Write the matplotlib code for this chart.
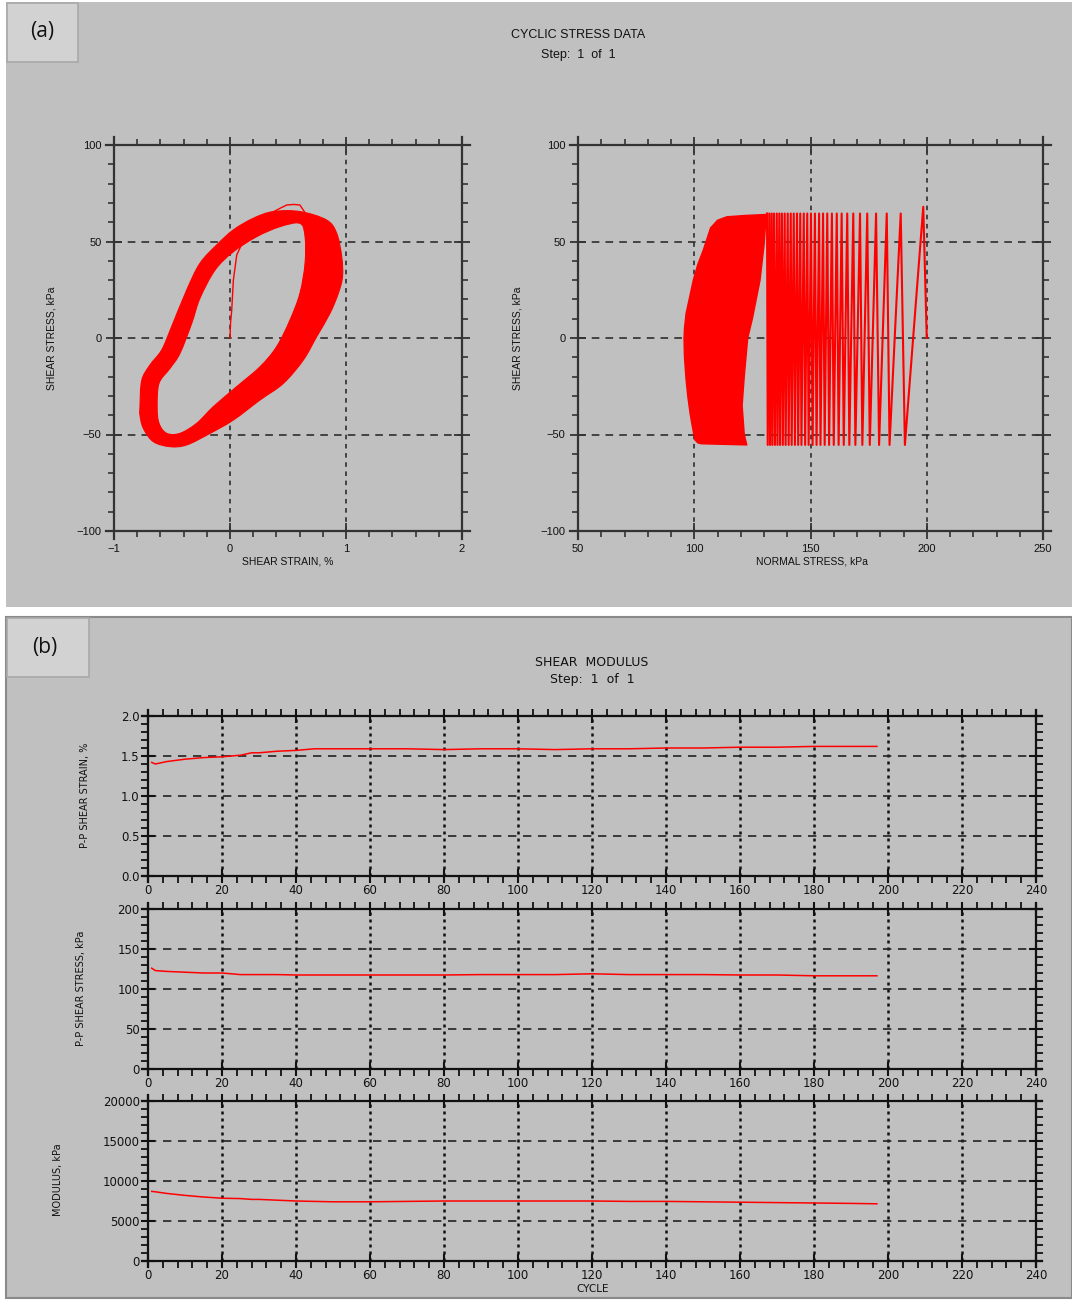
import numpy as np
import matplotlib
matplotlib.use("Agg")
import matplotlib.pyplot as plt
from matplotlib.path import Path
from matplotlib.patches import PathPatch, Rectangle
from matplotlib.ticker import MultipleLocator

# ---------------- data ----------------
# (a) left: shear stress vs shear strain, band of hysteresis loops (outer / inner edges)
loop_outer_strain = [-0.776, -0.761, -0.69, -0.589, -0.503, -0.373, -0.259, -0.115, 0.029, 0.20,
                     0.373, 0.603, 0.833, 0.92, 0.963, 0.97, 0.934, 0.862, 0.747, 0.632,
                     0.46, 0.259, 0.029, -0.172, -0.373, -0.517, -0.661, -0.747, -0.776]
loop_outer_stress = [-35.6, -22.0, -14.0, -6.2, 5.9, 24.9, 38.7, 48.2, 56.0, 62.0,
                     65.5, 65.5, 61.1, 54.2, 42.1, 31.8, 23.2, 12.8, 0.7, -11.4,
                     -23.5, -32.1, -42.5, -49.4, -55.4, -56.3, -53.7, -46.8, -40.0]
loop_inner_strain = [-0.628, -0.612, -0.517, -0.431, -0.330, -0.259, -0.129, 0.029, 0.23, 0.431,
                     0.603, 0.647, 0.647, 0.603, 0.517, 0.402, 0.259, 0.058, -0.144, -0.287,
                     -0.431, -0.546, -0.612]
loop_inner_stress = [-35.6, -23.5, -15.7, -7.9, 7.6, 20.6, 35.2, 44.7, 52.5, 57.7,
                     59.4, 52.5, 38.7, 23.2, 9.3, -4.5, -14.9, -25.2, -35.6, -44.2,
                     -49.4, -49.4, -44.2]
first_load_strain = [0.0, 0.005, 0.015, 0.029, 0.058, 0.15, 0.30, 0.431, 0.489, 0.55, 0.603, 0.66]
first_load_stress = [0.0, 8.0, 14.5, 30.0, 43.0, 55.0, 63.0, 67.2, 68.9, 69.2, 68.9, 63.7]

# (a) right: stress path, normal stress at the peaks/troughs of successive cycles
path_top_sigma = [198.5, 188.8, 182.8, 178.2, 174.4, 171.3, 168.4, 165.8, 163.4, 161.3,
                  159.2, 157.2, 155.4, 153.7, 151.9, 150.2, 148.6, 147.1, 145.6, 144.2,
                  142.8, 141.5, 140.2, 138.9, 137.7, 136.6, 135.5, 134.3, 133.3, 132.3, 131.3]
path_bot_sigma = [190.6, 184.0, 179.5, 175.5, 172.3, 169.3, 166.7, 164.3, 162.1, 160.0,
                  158.0, 156.1, 154.3, 152.6, 150.9, 149.2, 147.7, 146.1, 144.7, 143.3,
                  141.9, 140.6, 139.3, 138.1, 136.9, 135.8, 134.7, 133.6, 132.6, 131.6]
path_top_tau = 64.5
path_first_tau = 68.0
path_bot_tau = -55.4
path_start_sigma = 200.0
# envelope of the many late cycles that overlap into a solid area
dense_sigma = [131.0, 122.0, 114.0, 110.0, 107.0, 103.9, 101.5, 99.6, 97.8, 96.5, 95.8, 95.6,
               95.8, 96.5, 97.2, 98.2, 99.2, 100.3, 101.5, 103.0, 122.6, 121.5, 120.6, 121.5,
               123.0, 125.0, 128.3, 130.0]
dense_tau = [64.0, 63.5, 62.8, 61.0, 57.0, 45.6, 38.0, 30.0, 20.0, 12.8, 5.0, -0.2,
             -10.0, -21.8, -30.0, -39.0, -46.0, -52.8, -54.3, -54.8, -55.4, -50.0, -35.0, -20.0,
             0.0, 10.0, 30.0, 48.0]

# (b) shear modulus history
cycles = [1, 2, 5, 10, 15, 20, 25, 28, 30, 35, 40, 45, 50, 60, 70, 80, 90, 100,
          110, 120, 130, 140, 150, 160, 170, 180, 190, 197]
pp_strain = [1.42, 1.40, 1.43, 1.46, 1.48, 1.49, 1.51, 1.54, 1.54, 1.56, 1.57, 1.59, 1.59, 1.59,
             1.59, 1.58, 1.59, 1.59, 1.58, 1.59, 1.59, 1.60, 1.60, 1.61, 1.61, 1.62, 1.62, 1.62]
pp_stress = [126, 123, 122, 121, 120, 120, 118, 118, 118, 118, 117.5, 117.5, 117.5, 117.5,
             117.5, 117.5, 118, 118, 118, 119, 118, 118, 118, 117.5, 117.5, 116.5, 116.5, 116.5]
modulus = [8700, 8650, 8450, 8200, 8000, 7850, 7800, 7700, 7700, 7600, 7500, 7450, 7400, 7400,
           7450, 7500, 7500, 7500, 7500, 7500, 7450, 7450, 7400, 7350, 7300, 7250, 7200, 7150]

strain_ticks = [-1, 0, 1, 2]
sigma_ticks = [50, 100, 150, 200, 250]
tau_ticks = [-100, -50, 0, 50, 100]
cycle_ticks = list(range(0, 241, 20))

# ---------------- figure ----------------
W, H = 1072, 1300
BG = "#c0c0c0"
RED = "#ff0000"
fig = plt.figure(figsize=(W / 100, H / 100), dpi=100, facecolor="white")


def px_axes(left, top, right, bottom):
    ax = fig.add_axes([left / W, 1 - bottom / H, (right - left) / W, (bottom - top) / H])
    ax.set_facecolor("none")
    ax._px_size = (right - left, bottom - top)
    return ax


def fx(x):
    return x / W


def fy(y):
    return 1 - y / H


def extend_spines(ax, ext=8):
    # let the frame lines run a few pixels past the corners
    (x0, x1), (y0, y1) = ax.get_xlim(), ax.get_ylim()
    wpx, hpx = ax._px_size
    dx = ext / wpx * (x1 - x0)
    dy = ext / hpx * (y1 - y0)
    ax.spines["top"].set_bounds(x0 - dx, x1 + dx)
    ax.spines["bottom"].set_bounds(x0 - dx, x1 + dx)
    ax.spines["left"].set_bounds(y0 - dy, y1 + dy)
    ax.spines["right"].set_bounds(y0 - dy, y1 + dy)


def closed_curve(xs, ys):
    # smooth closed outline through the given points (Catmull-Rom as cubic Beziers)
    p = np.column_stack([xs, ys]).astype(float)
    n = len(p)
    verts = [p[0]]
    codes = [Path.MOVETO]
    for i in range(n):
        p0, p1, p2, p3 = p[i - 1], p[i], p[(i + 1) % n], p[(i + 2) % n]
        verts += [p1 + (p2 - p0) / 6, p2 - (p3 - p1) / 6, p2]
        codes += [Path.CURVE4] * 3
    return np.array(verts), codes


def signed_area(xs, ys):
    x, y = np.asarray(xs), np.asarray(ys)
    return 0.5 * np.sum(x * np.roll(y, -1) - np.roll(x, -1) * y)


# panel backgrounds
bgax = fig.add_axes([0, 0, 1, 1])
bgax.set_xlim(0, W)
bgax.set_ylim(H, 0)
bgax.axis("off")
bgax.add_patch(Rectangle((6, 2), W - 6, 605, facecolor=BG, edgecolor="none"))
bgax.add_patch(Rectangle((6, 617), W - 6, 681, facecolor=BG, edgecolor="#8a8a8a", lw=1.5))
bgax.add_patch(Rectangle((7, 3), 71, 59, facecolor="#d2d2d2", edgecolor="#a9a9a9", lw=1.2))
bgax.add_patch(Rectangle((7, 618), 82, 59, facecolor="#d2d2d2", edgecolor="#a9a9a9", lw=1.2))
bgax.text(42, 32, "(a)", fontsize=15, family="Open Sans", ha="center", va="center", color="#111111")
bgax.text(45, 647, "(b)", fontsize=15, family="Open Sans", ha="center", va="center", color="#111111")

SPINE = "#333333"


def style_a(ax):
    for s in ax.spines.values():
        s.set_color(SPINE)
        s.set_linewidth(1.6)
    ax.tick_params(which="both", top=True, right=True, direction="out", colors=SPINE,
                   labelcolor="#111111", labelsize=8)
    ax.tick_params(which="major", direction="inout", length=11, width=1.3)
    ax.tick_params(which="minor", length=4, width=1.2)
    for lab in ax.get_xticklabels() + ax.get_yticklabels():
        lab.set_family("Liberation Sans")
    extend_spines(ax)


# ---- (a) left: hysteresis band ----
axL = px_axes(114, 145, 462, 531)
axL.set_xlim(-1, 2)
axL.set_ylim(-100, 100)
axL.set_xticks(strain_ticks)
axL.set_yticks(tau_ticks)
axL.set_xticklabels(["\u22121", "0", "1", "2"])
axL.set_yticklabels(["\u2212100", "\u221250", "0", "50", "100"])
axL.xaxis.set_minor_locator(MultipleLocator(0.2))
axL.yaxis.set_minor_locator(MultipleLocator(10))
for v in [0, 1]:
    axL.axvline(v, color="#222222", lw=1.1, ls=(0, (3, 3)), zorder=1)
for v in [-50, 0, 50]:
    axL.axhline(v, color="#222222", lw=1.1, ls=(0, (5, 4)), zorder=1)

in_x, in_y = list(loop_inner_strain), list(loop_inner_stress)
if np.sign(signed_area(loop_outer_strain, loop_outer_stress)) == np.sign(signed_area(in_x, in_y)):
    in_x, in_y = in_x[::-1], in_y[::-1]
v_out, c_out = closed_curve(loop_outer_strain, loop_outer_stress)
v_in, c_in = closed_curve(in_x, in_y)
ring = Path(np.vstack([v_out, v_in]), c_out + c_in)
axL.add_patch(PathPatch(ring, facecolor=RED, edgecolor=RED, lw=0.8, zorder=3))
axL.plot(first_load_strain, first_load_stress, color=RED, lw=1.0, zorder=3)
style_a(axL)

# ---- (a) right: stress path ----
axR = px_axes(578, 145, 1043, 531)
axR.set_xlim(50, 250)
axR.set_ylim(-100, 100)
axR.set_xticks(sigma_ticks)
axR.set_yticks(tau_ticks)
axR.set_yticklabels(["\u2212100", "\u221250", "0", "50", "100"])
axR.xaxis.set_minor_locator(MultipleLocator(10))
axR.yaxis.set_minor_locator(MultipleLocator(10))
for v in [100, 150, 200]:
    axR.axvline(v, color="#222222", lw=1.1, ls=(0, (3, 3)), zorder=1)
for v in [-50, 0, 50]:
    axR.axhline(v, color="#222222", lw=1.1, ls=(0, (5, 4)), zorder=1)

zx = [path_start_sigma]
zy = [0.0]
for i, top in enumerate(path_top_sigma):
    zx.append(top)
    zy.append(path_first_tau if i == 0 else path_top_tau)
    if i < len(path_bot_sigma):
        zx.append(path_bot_sigma[i])
        zy.append(path_bot_tau)
axR.plot(zx, zy, color=RED, lw=1.5, zorder=3, solid_joinstyle="round")
axR.fill(dense_sigma, dense_tau, facecolor=RED, edgecolor=RED, lw=1.0, joinstyle="round",
         zorder=3)
style_a(axR)

fig.text(fx(578), fy(35), "CYCLIC STRESS DATA", ha="center", va="center", fontsize=9,
         family="Liberation Sans", color="#111111")
fig.text(fx(578), fy(55), "Step:  1  of  1", ha="center", va="center", fontsize=9,
         family="Liberation Sans", color="#111111")
fig.text(fx(52), fy(338), "SHEAR STRESS, kPa", rotation=90, ha="center", va="center",
         fontsize=7.5, family="Liberation Sans", color="#111111")
fig.text(fx(517), fy(338), "SHEAR STRESS, kPa", rotation=90, ha="center", va="center",
         fontsize=7.5, family="Liberation Sans", color="#111111")
fig.text(fx(288), fy(562), "SHEAR STRAIN, %", ha="center", va="center",
         fontsize=7.5, family="Liberation Sans", color="#111111")
fig.text(fx(812), fy(562), "NORMAL STRESS, kPa", ha="center", va="center",
         fontsize=7.5, family="Liberation Sans", color="#111111")

# ---- (b) shear modulus panels ----
panels = [
    (716, 876, pp_strain, (0, 2.0), 0.5, 0.1, ["0.0", "0.5", "1.0", "1.5", "2.0"]),
    (909, 1069, pp_stress, (0, 200), 50, 10, ["0", "50", "100", "150", "200"]),
    (1101, 1261, modulus, (0, 20000), 5000, 1000, ["0", "5000", "10000", "15000", "20000"]),
]
for top, bottom, series, ylim, major, minor, ylabels in panels:
    ax = px_axes(148, top, 1036, bottom)
    ax.set_xlim(0, 240)
    ax.set_ylim(*ylim)
    ax.set_xticks(cycle_ticks)
    ax.set_yticks(np.arange(ylim[0], ylim[1] + major / 2, major))
    ax.set_yticklabels(ylabels)
    ax.xaxis.set_minor_locator(MultipleLocator(4))
    ax.yaxis.set_minor_locator(MultipleLocator(minor))
    for v in cycle_ticks[1:-1]:
        ax.axvline(v, color="#111111", lw=1.8, ls=(0, (1.2, 1.6)), zorder=1)
    for v in np.arange(ylim[0] + major, ylim[1] - major / 2, major):
        ax.axhline(v, color="#222222", lw=1.2, ls=(0, (5, 4)), zorder=1)
    ax.plot(cycles, series, color=RED, lw=1.1, zorder=3)
    for s in ax.spines.values():
        s.set_color("#111111")
        s.set_linewidth(1.6)
    ax.tick_params(which="both", top=True, right=True, direction="out", colors="#111111",
                   labelsize=8.5, pad=1)
    ax.tick_params(which="major", direction="inout", length=10, width=1.5)
    ax.tick_params(which="minor", length=5, width=1.3)
    for lab in ax.get_xticklabels() + ax.get_yticklabels():
        lab.set_family("DejaVu Sans")
    extend_spines(ax, ext=6)

fig.text(fx(592), fy(663), "SHEAR  MODULUS", ha="center", va="center", fontsize=9,
         family="DejaVu Sans", color="#111111")
fig.text(fx(592), fy(680), "Step:  1  of  1", ha="center", va="center", fontsize=9,
         family="DejaVu Sans", color="#111111")
fig.text(fx(85), fy(795), "P-P SHEAR STRAIN, %", rotation=90, ha="center", va="center",
         fontsize=7, family="DejaVu Sans", color="#111111")
fig.text(fx(81), fy(988), "P-P SHEAR STRESS, kPa", rotation=90, ha="center", va="center",
         fontsize=7, family="DejaVu Sans", color="#111111")
fig.text(fx(58), fy(1180), "MODULUS, kPa", rotation=90, ha="center", va="center",
         fontsize=7, family="DejaVu Sans", color="#111111")
fig.text(fx(593), fy(1288.5), "CYCLE", ha="center", va="center", fontsize=7.5,
         family="DejaVu Sans", color="#111111")

fig.savefig("out.png", dpi=100, facecolor="white")
